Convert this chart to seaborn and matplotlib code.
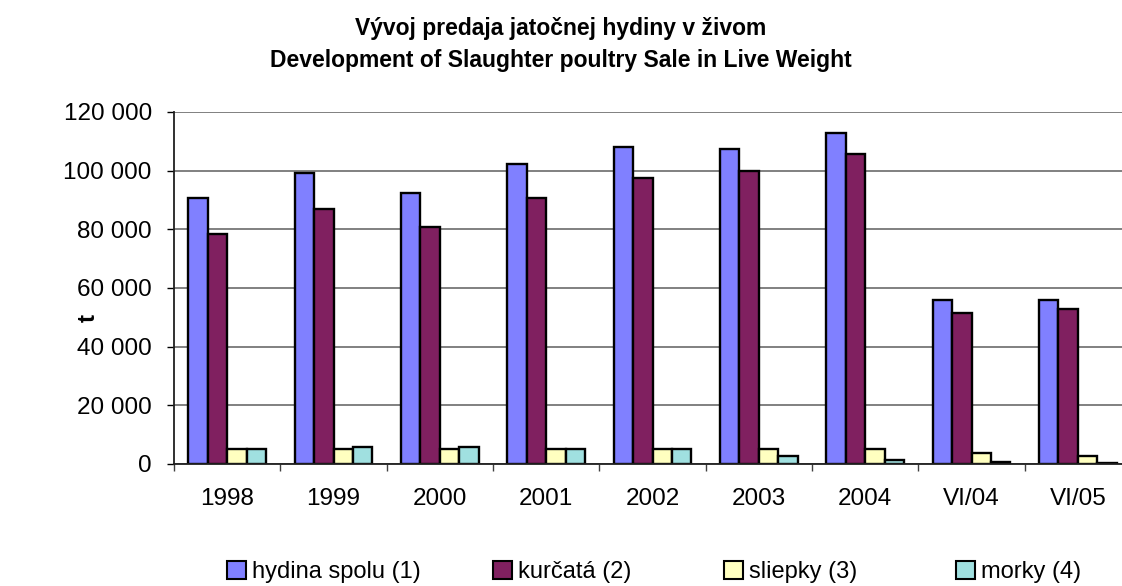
import matplotlib
matplotlib.use("Agg")
import matplotlib.pyplot as plt
from matplotlib.patches import Patch
from matplotlib.ticker import FuncFormatter, FixedLocator
import seaborn as sns
import pandas as pd

categories = ['1998', '1999', '2000', '2001', '2002', '2003', '2004', 'VI/04', 'VI/05']
series_names = ['hydina spolu (1)', 'kurčatá (2)', 'sliepky (3)', 'morky (4)']
hydina = [90600, 99100, 92300, 102200, 108200, 107300, 112700, 55800, 55800]
kurcata = [78500, 86900, 80800, 90600, 97500, 99800, 105800, 51400, 52800]
sliepky = [5100, 5100, 5100, 5100, 5100, 5100, 5100, 3600, 2800]
morky = [5100, 5900, 5900, 5100, 5100, 2800, 1400, 600, 500]
colors = ['#8080FF', '#802060', '#FFFFC0', '#A0E0E0']
yticks = [0, 20000, 40000, 60000, 80000, 100000, 120000]

rows = []
for name, vals in zip(series_names, [hydina, kurcata, sliepky, morky]):
    for c, v in zip(categories, vals):
        rows.append({'cat': c, 'val': v, 'series': name})
df = pd.DataFrame(rows)

sns.set_theme(style='white')
plt.rcParams['font.family'] = ['Liberation Sans', 'DejaVu Sans']
plt.rcParams['text.color'] = 'black'
plt.rcParams['xtick.color'] = 'black'
plt.rcParams['ytick.color'] = 'black'

W, H = 1122, 586
TOP, BOT = 112, 464
fig = plt.figure(figsize=(W / 100, H / 100), dpi=100)
ax = fig.add_axes([174 / W, (H - BOT) / H, (W - 174) / W, (BOT - TOP) / H])
ax.set_axisbelow(True)
ax.yaxis.grid(True, color='#808080', linewidth=1.4)

sns.barplot(data=df, x='cat', y='val', hue='series', hue_order=series_names,
            order=categories, palette=colors, saturation=1, width=0.73, gap=0,
            edgecolor='black', linewidth=1.7, legend=False, ax=ax, errorbar=None)

ax.set_xlim(-0.5, 8.5 - 9 / 106.3)
ax.set_ylim(0, 120000)
ax.set_yticks(yticks)
ax.yaxis.set_major_formatter(FuncFormatter(lambda v, p: f"{int(v):,}".replace(',', ' ')))
ax.xaxis.set_minor_locator(FixedLocator([i - 0.5 for i in range(len(categories) + 1)]))
ax.tick_params(axis='x', which='major', length=0, pad=17, labelsize=17.5, labelcolor='black')
ax.tick_params(axis='x', which='minor', length=5, width=1, color='#404040', direction='out', bottom=True)
ax.tick_params(axis='y', which='major', length=5, width=1, color='black', direction='out',
               left=True, pad=11, labelsize=17.5, labelcolor='black')
for s in ['top', 'right']:
    ax.spines[s].set_visible(False)
for s in ['left', 'bottom']:
    ax.spines[s].set_color('#202020')
    ax.spines[s].set_linewidth(1.3)
ax.set_xlabel('')
ax.set_ylabel('')

fig.text(88 / W, 1 - 318 / H, 't', rotation=90, fontsize=17.5, fontweight='bold',
         ha='center', va='center', color='black')
fig.text(0.5, 1 - 29 / H, 'Vývoj predaja jatočnej hydiny v živom', fontsize=16.5,
         fontweight='bold', ha='center', va='center', color='black')
fig.text(0.5, 1 - 61 / H, 'Development of Slaughter poultry Sale in Live Weight', fontsize=16.5,
         fontweight='bold', ha='center', va='center', color='black')

leg_x = [227, 493, 724, 956]
for name, col, x in zip(series_names, colors, leg_x):
    h = Patch(facecolor=col, edgecolor='black', linewidth=1.5)
    fig.legend(handles=[h], labels=[name], loc='center left',
               bbox_to_anchor=(x / W, 1 - 572 / H), frameon=False, fontsize=17,
               handlelength=0.8, handleheight=0.8, handletextpad=0.25,
               borderpad=0, borderaxespad=0, labelcolor='black')

fig.savefig('out.png', dpi=100)
